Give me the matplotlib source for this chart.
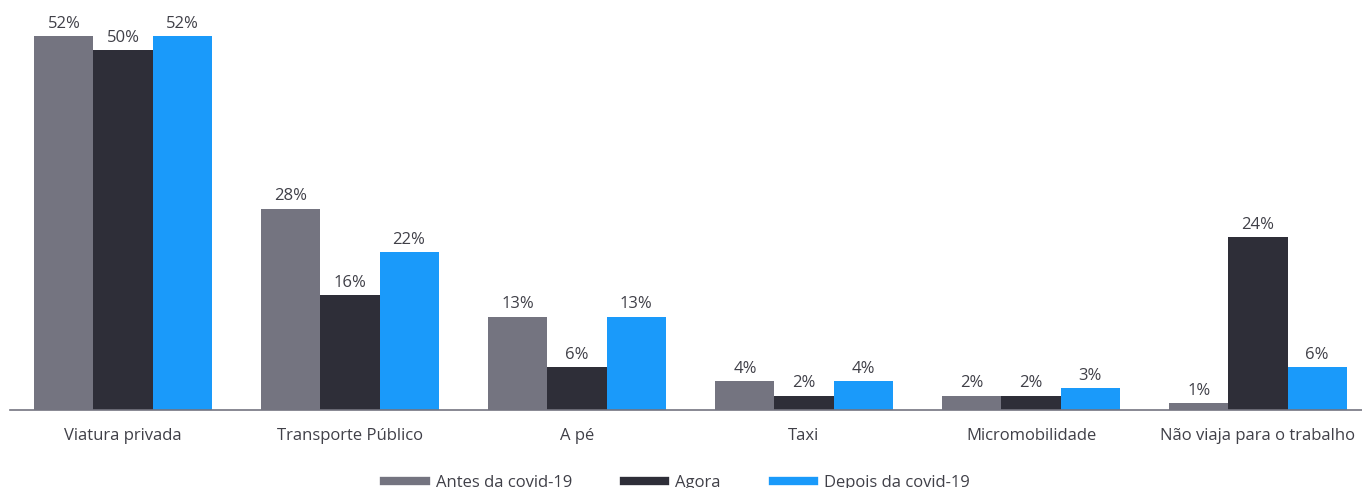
import numpy as np
import matplotlib.pyplot as plt
from matplotlib.lines import Line2D

categories = ['Viatura privada', 'Transporte Público', 'A pé', 'Taxi',
              'Micromobilidade', 'Não viaja para o trabalho']
antes = [52, 28, 13, 4, 2, 1]
agora = [50, 16, 6, 2, 2, 24]
depois = [52, 22, 13, 4, 3, 6]
series_names = ['Antes da covid-19', 'Agora', 'Depois da covid-19']
colors = ['#747480', '#2E2E38', '#1A9AFA']
text_color = '#404048'

plt.rcParams['font.family'] = ['Open Sans', 'DejaVu Sans']

W, H = 1362, 488
fig = plt.figure(figsize=(W / 100, H / 100), dpi=100)
# axes box in pixels: left edge 9.5, baseline at y=410, right edge runs past the figure
ymax = 55
px_per_unit = 374 / 52
ax_h = ymax * px_per_unit
ax = fig.add_axes([9.5 / W, (H - 410) / H, 1362 / W, ax_h / H])

x = np.arange(len(categories))
width = 0.26
for i, (vals, name, c) in enumerate(zip([antes, agora, depois], series_names, colors)):
    pos = x + (i - 1) * width
    bars = ax.bar(pos, vals, width, color=c, label=name)
    for b, v in zip(bars, vals):
        ax.annotate(f'{v}%', (b.get_x() + b.get_width() / 2, v),
                    xytext=(0, 3), textcoords='offset points',
                    ha='center', va='bottom', fontsize=12, color=text_color)

ax.set_xlim(-0.5, len(categories) - 0.5)
ax.set_ylim(0, ymax)
ax.set_xticks(x)
ax.set_xticklabels(categories, fontsize=12, color=text_color)
ax.tick_params(axis='x', length=0, pad=13)
ax.set_yticks([])
for s in ['top', 'right', 'left']:
    ax.spines[s].set_visible(False)
ax.spines['bottom'].set_color('#747480')
ax.spines['bottom'].set_linewidth(1.2)

handles = [Line2D([0], [0], color=c, lw=6) for c in colors]
fig.legend(handles, series_names, loc='center', bbox_to_anchor=(677 / W, (H - 483) / H),
           ncol=3, frameon=False, fontsize=12, handlelength=2.5, columnspacing=3.1,
           handletextpad=0.6, labelcolor=text_color)

fig.savefig('out.png', dpi=100)
